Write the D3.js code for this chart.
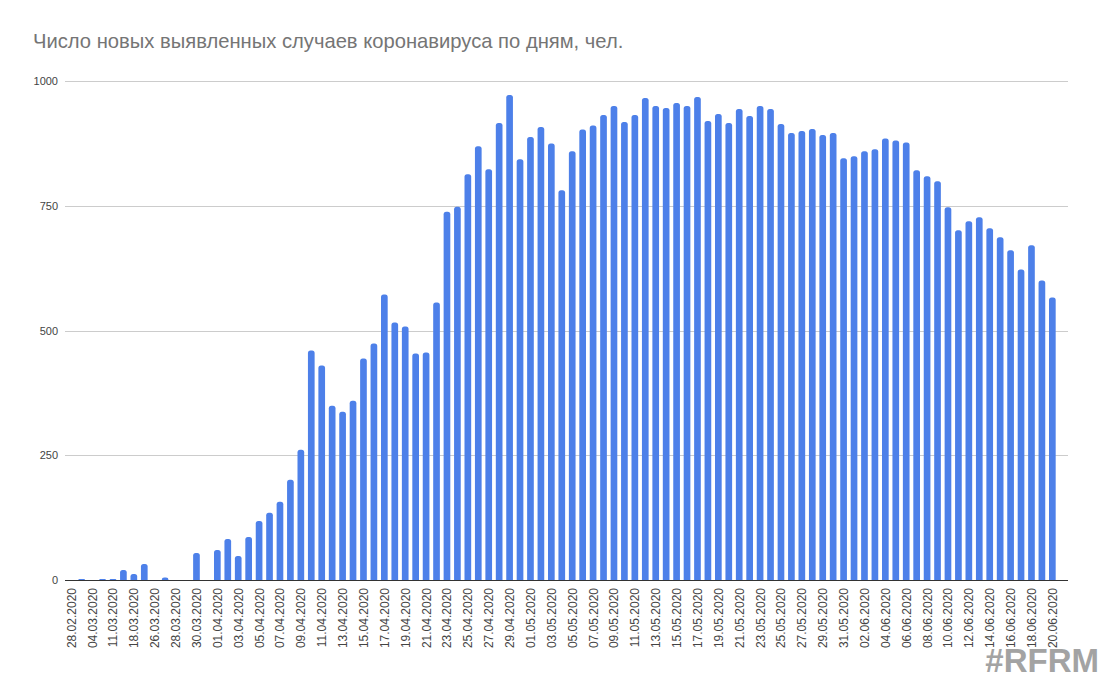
<!DOCTYPE html>
<html>
<head>
<meta charset="utf-8">
<script src="https://cdn.jsdelivr.net/npm/d3@7"></script>
<style>
  html, body { margin: 0; padding: 0; background: #fff; }
  svg { display: block; }
</style>
</head>
<body>
<svg id="chart" width="1102" height="679"></svg>
<script>
const title = "Число новых выявленных случаев коронавируса по дням, чел.";

const dates = [
  "28.02.2020","02.03.2020","04.03.2020","06.03.2020","11.03.2020","15.03.2020","18.03.2020","21.03.2020",
  "26.03.2020","27.03.2020","28.03.2020","29.03.2020","30.03.2020","31.03.2020",
  "01.04.2020","02.04.2020","03.04.2020","04.04.2020","05.04.2020","06.04.2020","07.04.2020","08.04.2020",
  "09.04.2020","10.04.2020","11.04.2020","12.04.2020","13.04.2020","14.04.2020","15.04.2020","16.04.2020",
  "17.04.2020","18.04.2020","19.04.2020","20.04.2020","21.04.2020","22.04.2020","23.04.2020","24.04.2020",
  "25.04.2020","26.04.2020","27.04.2020","28.04.2020","29.04.2020","30.04.2020",
  "01.05.2020","02.05.2020","03.05.2020","04.05.2020","05.05.2020","06.05.2020","07.05.2020","08.05.2020",
  "09.05.2020","10.05.2020","11.05.2020","12.05.2020","13.05.2020","14.05.2020","15.05.2020","16.05.2020",
  "17.05.2020","18.05.2020","19.05.2020","20.05.2020","21.05.2020","22.05.2020","23.05.2020","24.05.2020",
  "25.05.2020","26.05.2020","27.05.2020","28.05.2020","29.05.2020","30.05.2020","31.05.2020",
  "01.06.2020","02.06.2020","03.06.2020","04.06.2020","05.06.2020","06.06.2020","07.06.2020","08.06.2020",
  "09.06.2020","10.06.2020","11.06.2020","12.06.2020","13.06.2020","14.06.2020","15.06.2020","16.06.2020",
  "17.06.2020","18.06.2020","19.06.2020","20.06.2020","21.06.2020"
];

const cases = [
  0, 2, 0, 2, 2, 20, 12, 32,
  0, 5, 0, 0, 54, 0,
  60, 82, 48, 86, 118, 135, 157, 201,
  261, 460, 430, 349, 337, 359, 444, 474,
  572, 516, 508, 454, 456, 556, 738, 748,
  813, 869, 823, 916, 972, 843,
  888, 908, 875, 781, 859, 903, 911, 932,
  950, 918, 932, 966, 950, 946, 956, 950,
  968, 920, 934, 916, 944, 930, 950, 944,
  914, 896, 900, 904, 892, 896, 845,
  849, 859, 863, 885, 881, 877, 821, 809,
  799, 747, 701, 719, 727, 705, 687, 661,
  622, 671, 600, 566
];

const yTicks = [0, 250, 500, 750, 1000];

const svg = d3.select("#chart");
const margin = { left: 66, right: 1068, top: 81, bottom: 580 };

const x = d3.scaleBand()
  .domain(dates)
  .range([margin.left, margin.right])
  .paddingInner(0.36)
  .paddingOuter(0.18);

const y = d3.scaleLinear()
  .domain([0, 1000])
  .range([margin.bottom, margin.top]);

// title
svg.append("text")
  .attr("x", 33)
  .attr("y", 48)
  .attr("font-family", "'Liberation Sans', Arial, sans-serif")
  .attr("font-size", 20.2)
  .attr("fill", "#757575")
  .text(title);

// gridlines
svg.append("g")
  .selectAll("line")
  .data(yTicks.filter(d => d !== 0))
  .join("line")
  .attr("x1", 65).attr("x2", 1068)
  .attr("y1", d => Math.round(y(d)) + 0.5)
  .attr("y2", d => Math.round(y(d)) + 0.5)
  .attr("stroke", "#cccccc")
  .attr("stroke-width", 1);

// y axis labels
const yAxis = d3.axisLeft(y).tickValues(yTicks).tickFormat(d3.format("d")).tickSize(0).tickPadding(0);
const gy = svg.append("g").attr("transform", "translate(58,0)").call(yAxis);
gy.select(".domain").remove();
gy.selectAll("text")
  .attr("font-family", "'Liberation Sans', Arial, sans-serif")
  .attr("font-size", 11)
  .attr("fill", "#444");

// bars with rounded tops
const r = 2.5;
function barPath(d, i) {
  const x0 = x(dates[i]);
  const w = x.bandwidth();
  const y0 = y(0);
  const y1 = y(d);
  const h = y0 - y1;
  if (h <= 0) return "";
  const rr = Math.min(r, h, w / 2);
  return `M${x0},${y0} L${x0},${y1 + rr} Q${x0},${y1} ${x0 + rr},${y1} L${x0 + w - rr},${y1} Q${x0 + w},${y1} ${x0 + w},${y1 + rr} L${x0 + w},${y0} Z`;
}
svg.append("g")
  .selectAll("path")
  .data(cases)
  .join("path")
  .attr("d", (d, i) => barPath(d, i))
  .attr("fill", "#4d80e9");

// baseline
svg.append("line")
  .attr("x1", 65).attr("x2", 1068)
  .attr("y1", y(0) + 0.5).attr("y2", y(0) + 0.5)
  .attr("stroke", "#333")
  .attr("stroke-width", 1);

// x axis labels (every other)
const xAxis = d3.axisBottom(x)
  .tickValues(dates.filter((d, i) => i % 2 === 0))
  .tickSize(0).tickPadding(0);
const gx = svg.append("g").attr("transform", `translate(0,${y(0)})`).call(xAxis);
gx.select(".domain").remove();
gx.selectAll("text")
  .attr("font-family", "'Liberation Sans', Arial, sans-serif")
  .attr("font-size", 12)
  .attr("fill", "#444")
  .attr("text-anchor", "end")
  .attr("dy", null)
  .attr("y", 0)
  .attr("transform", "translate(4.5,8) rotate(-90)");

// watermark
svg.append("text")
  .attr("x", 1099)
  .attr("y", 672)
  .attr("text-anchor", "end")
  .attr("font-family", "'Liberation Sans', Arial, sans-serif")
  .attr("font-weight", "bold")
  .attr("font-size", 33)
  .attr("fill", "#a3a3a3")
  .text("#RFRM");
</script>
</body>
</html>
